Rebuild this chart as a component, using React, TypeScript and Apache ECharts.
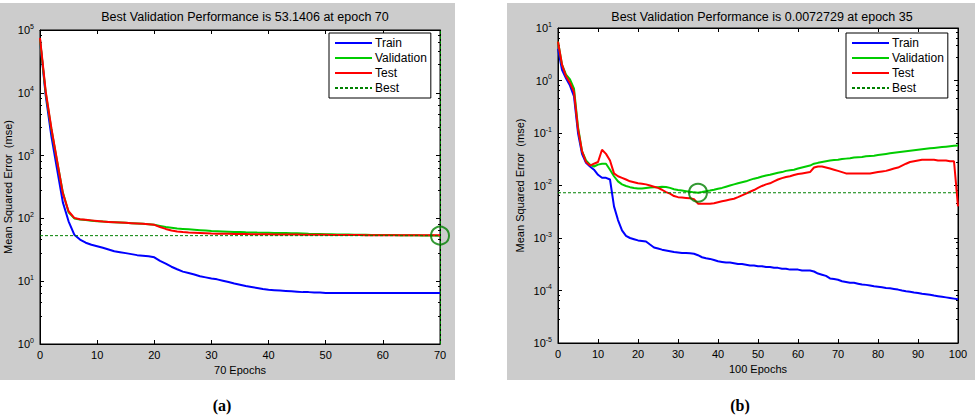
import React, { useEffect, useRef } from "react";
import * as echarts from "echarts";

// ---------- Data ----------
const seriesNames = ["Train", "Validation", "Test", "Best"];

// Chart (a): 70 epochs
const leftTrain = [
  70000, 9000, 2000, 600, 180, 90, 55, 46, 41, 38, 36, 34, 32, 30, 29, 28, 27, 26, 25.5, 25,
  24, 21, 19, 17, 15.5, 14.2, 13.5, 12.8, 12, 11.5, 11, 10.7, 10.2, 9.7, 9.2, 8.8, 8.4, 8.1, 7.8, 7.5,
  7.3, 7.2, 7.1, 7.0, 6.9, 6.8, 6.7, 6.7, 6.6, 6.6, 6.5, 6.5, 6.5, 6.5, 6.5, 6.5, 6.5, 6.5, 6.5, 6.5,
  6.5, 6.5, 6.5, 6.5, 6.5, 6.5, 6.5, 6.5, 6.5, 6.5, 6.5,
];
const leftValidation = [
  70000, 10000, 2600, 800, 260, 125, 100, 96, 94, 92, 90, 89, 88, 87, 86, 85, 84, 83, 82, 81,
  79, 76, 73, 71, 69, 68, 67, 66, 65, 64, 63, 62.5, 62, 61.5, 61, 60.5, 60, 59.7, 59.4, 59.2,
  59, 58.8, 58.6, 58.4, 58.2, 58, 57.5, 57, 56.6, 56.3, 56, 55.8, 55.6, 55.4, 55.2, 55, 54.8, 54.7, 54.6, 54.5,
  54.4, 54.3, 54.2, 54.1, 54, 53.8, 53.7, 53.5, 53.4, 53.2, 53.1406,
];
const leftTest = [
  75000, 10500, 2700, 820, 250, 130, 102, 97, 95, 93, 91, 89, 88, 87, 86, 85, 84, 83, 82, 81,
  79, 73, 68, 64, 62, 60.5, 59.5, 59, 58.5, 58, 57.5, 57.2, 57, 56.8, 56.6, 56.4, 56.2, 56, 55.9, 55.8,
  55.7, 55.6, 55.5, 55.4, 55.3, 55.2, 55.1, 55, 54.9, 54.8, 54.7, 54.6, 54.5, 54.4, 54.3, 54.2, 54.2, 54.1, 54.1, 54,
  54, 54, 53.9, 53.9, 53.9, 53.8, 53.8, 53.8, 53.8, 53.8, 53.8,
];
const leftBestEpoch = 70;
const leftBestValue = 53.1406;

// Chart (b): 100 epochs
const rightTrain = [
  4.0, 1.6, 1.1, 0.8, 0.5, 0.1, 0.04, 0.027, 0.023, 0.02,
  0.016, 0.014, 0.014, 0.013, 0.004, 0.0022, 0.0014, 0.0011, 0.001, 0.00095,
  0.0009, 0.00088, 0.00086, 0.00075, 0.00066, 0.00063, 0.0006, 0.00058, 0.00056, 0.00054,
  0.00053, 0.00052, 0.00052, 0.00051, 0.0005, 0.00047, 0.00043, 0.00041, 0.0004, 0.00038,
  0.00036, 0.00035, 0.00034, 0.00034, 0.00033, 0.00032, 0.00032, 0.00031, 0.0003, 0.0003,
  0.00029, 0.00029, 0.00028, 0.00028, 0.00027, 0.00027, 0.00026, 0.00026, 0.00025, 0.00025,
  0.00025, 0.00024, 0.00024, 0.00024, 0.00023, 0.00021, 0.0002, 0.00019, 0.00017, 0.000165,
  0.00016, 0.00015, 0.000145, 0.00014, 0.00014, 0.000135, 0.00013, 0.000128, 0.000125, 0.00012,
  0.000118, 0.000115, 0.000112, 0.00011, 0.000107, 0.000104, 0.0001, 0.000097, 0.000095, 0.000092,
  0.00009, 0.000087, 0.000085, 0.000083, 0.00008, 0.000078, 0.000076, 0.000074, 0.000072, 0.00007,
  0.000068,
];
const rightValidation = [
  5.5, 2.0, 1.3, 1.05, 0.7, 0.13, 0.045, 0.03, 0.025, 0.023,
  0.025, 0.026, 0.026, 0.02, 0.015, 0.012, 0.0105, 0.0098, 0.0093, 0.009,
  0.0088, 0.0088, 0.009, 0.0092, 0.0093, 0.0093, 0.0095, 0.0094, 0.009, 0.0085,
  0.0082, 0.008, 0.0078, 0.0076, 0.0074, 0.0072729, 0.0075, 0.0078, 0.008, 0.0083,
  0.0087, 0.009, 0.0095, 0.01, 0.0105, 0.011, 0.0115, 0.012, 0.0128, 0.0135,
  0.014, 0.0148, 0.0155, 0.016, 0.0168, 0.0175, 0.018, 0.019, 0.0195, 0.02,
  0.021, 0.022, 0.023, 0.024, 0.026, 0.027, 0.028, 0.029, 0.03, 0.0305,
  0.031, 0.032, 0.0325, 0.033, 0.034, 0.0345, 0.035, 0.036, 0.0365, 0.037,
  0.038, 0.039, 0.04, 0.041, 0.042, 0.043, 0.044, 0.045, 0.046, 0.047,
  0.048, 0.049, 0.05, 0.051, 0.052, 0.053, 0.054, 0.055, 0.056, 0.057,
  0.058,
];
const rightTest = [
  5.5, 2.0, 1.2, 0.9, 0.6, 0.12, 0.045, 0.028, 0.024, 0.026,
  0.028, 0.048, 0.04, 0.03, 0.017, 0.015, 0.014, 0.013, 0.012, 0.0115,
  0.011, 0.0108, 0.0105, 0.01, 0.0095, 0.009, 0.0083, 0.0075, 0.007, 0.0063,
  0.006, 0.0059, 0.0058, 0.0057, 0.0055, 0.0045, 0.0045, 0.0045, 0.0045, 0.0046,
  0.0048, 0.005, 0.0052, 0.0054, 0.0056, 0.006, 0.0065, 0.007, 0.0076, 0.0082,
  0.009, 0.0098, 0.0105, 0.011, 0.012, 0.013, 0.0138, 0.0145, 0.015, 0.0158,
  0.0165, 0.017, 0.0175, 0.018, 0.022, 0.023, 0.023, 0.022, 0.021, 0.02,
  0.019, 0.018, 0.017, 0.017, 0.017, 0.017, 0.017, 0.017, 0.017, 0.0175,
  0.018, 0.0185, 0.019, 0.02, 0.021, 0.022, 0.024, 0.026, 0.028, 0.029,
  0.03, 0.031, 0.031, 0.031, 0.031, 0.03, 0.03, 0.03, 0.029, 0.029,
  0.004,
];
const rightBestEpoch = 35;
const rightBestValue = 0.0072729;

const leftTitle = "Best Validation Performance is 53.1406 at epoch 70";
const rightTitle = "Best Validation Performance is 0.0072729 at epoch 35";
const leftXName = "70 Epochs";
const rightXName = "100 Epochs";
const yName = "Mean Squared Error  (mse)";
const captions = ["(a)", "(b)"];

// ---------- Styling ----------
const FONT = "Liberation Sans, Arial, sans-serif";
const C_TRAIN = "#0000ff";
const C_VAL = "#00cc00";
const C_TEST = "#ff0000";
const C_BEST = "#008000";

const toPairs = (arr: number[]) => arr.map((v, i) => [i, v]);

function buildOption() {
  const yLabel = {
    fontFamily: FONT,
    color: "#000",
    margin: 6,
    formatter: (v: number) => `{b|10}{s|${Math.round(Math.log10(v))}}`,
    rich: {
      b: { fontSize: 11, fontFamily: FONT, color: "#000" },
      s: { fontSize: 7, fontFamily: FONT, color: "#000", padding: [0, 0, 8, 0] },
    },
  };
  const tickIn = { inside: true, length: 4, lineStyle: { color: "#000" } };
  const minorIn = { show: true, splitNumber: 5, length: 2, lineStyle: { color: "#000" } };
  const axisLine = { show: true, onZero: false, lineStyle: { color: "#000", width: 1 } };

  const mkX = (grid: number, max: number, name: string) => [
    {
      type: "value",
      gridIndex: grid,
      min: 0,
      max,
      interval: 10,
      position: "bottom",
      axisLine,
      axisTick: tickIn,
      splitLine: { show: false },
      axisLabel: { fontFamily: FONT, fontSize: 11, color: "#000", margin: 5 },
      name,
      nameLocation: "middle",
      nameGap: 19,
      nameTextStyle: { fontFamily: FONT, fontSize: 11, color: "#000" },
    },
    {
      type: "value",
      gridIndex: grid,
      min: 0,
      max,
      interval: 10,
      position: "top",
      axisLine,
      axisTick: tickIn,
      splitLine: { show: false },
      axisLabel: { show: false },
    },
  ];
  const mkY = (grid: number, min: number, max: number, split: number, gap: number) => [
    {
      type: "log",
      logBase: 10,
      gridIndex: grid,
      min,
      max,
      splitNumber: split,
      position: "left",
      axisLine,
      axisTick: tickIn,
      minorTick: minorIn,
      splitLine: { show: false },
      minorSplitLine: { show: false },
      axisLabel: yLabel,
      name: yName,
      nameLocation: "middle",
      nameGap: gap,
      nameTextStyle: { fontFamily: FONT, fontSize: 11, color: "#000" },
    },
    {
      type: "log",
      logBase: 10,
      gridIndex: grid,
      min,
      max,
      splitNumber: split,
      position: "right",
      axisLine,
      axisTick: tickIn,
      minorTick: minorIn,
      splitLine: { show: false },
      minorSplitLine: { show: false },
      axisLabel: { show: false },
    },
  ];

  const mkSeries = (
    xi: number,
    yi: number,
    train: number[],
    val: number[],
    test: number[],
    bestEpoch: number,
    bestValue: number,
    maxEpoch: number,
    vertical: boolean
  ) => [
    {
      name: "Train",
      type: "line",
      xAxisIndex: xi,
      yAxisIndex: yi,
      data: toPairs(train),
      symbol: "none",
      lineStyle: { color: C_TRAIN, width: 2 },
      itemStyle: { color: C_TRAIN },
    },
    {
      name: "Validation",
      type: "line",
      xAxisIndex: xi,
      yAxisIndex: yi,
      data: toPairs(val),
      symbol: "none",
      lineStyle: { color: C_VAL, width: 2 },
      itemStyle: { color: C_VAL },
    },
    {
      name: "Test",
      type: "line",
      xAxisIndex: xi,
      yAxisIndex: yi,
      data: toPairs(test),
      symbol: "none",
      lineStyle: { color: C_TEST, width: 2 },
      itemStyle: { color: C_TEST },
    },
    {
      name: "Best",
      type: "line",
      xAxisIndex: xi,
      yAxisIndex: yi,
      data: [
        [0, bestValue],
        [maxEpoch, bestValue],
      ],
      symbol: "none",
      lineStyle: { color: C_BEST, width: 1, type: [3, 2] },
      itemStyle: { color: C_BEST },
      markLine: vertical
        ? {
            silent: true,
            symbol: "none",
            label: { show: false },
            lineStyle: { color: C_BEST, width: 1, type: [3, 2] },
            data: [{ xAxis: bestEpoch }],
          }
        : undefined,
    },
    {
      name: "bestPoint",
      type: "scatter",
      xAxisIndex: xi,
      yAxisIndex: yi,
      data: [[bestEpoch, bestValue]],
      symbol: "circle",
      symbolSize: 18,
      clip: false,
      itemStyle: { color: "rgba(0,0,0,0)", borderColor: C_BEST, borderWidth: 2 },
      z: 5,
    },
  ];

  const legendBase = {
    orient: "vertical",
    data: seriesNames,
    backgroundColor: "#fff",
    borderColor: "#000",
    borderWidth: 1,
    borderRadius: 0,
    padding: [4, 4, 4, 5],
    itemGap: 3,
    itemWidth: 37,
    itemHeight: 14,
    selectedMode: false,
    itemStyle: { opacity: 0, borderWidth: 0 },
    textStyle: { fontFamily: FONT, fontSize: 12, color: "#000", padding: [0, 0, 0, -2] },
  };

  return {
    animation: false,
    backgroundColor: "#fff",
    title: [
      {
        text: leftTitle,
        left: 240,
        top: 5,
        textAlign: "center",
        textStyle: { fontFamily: FONT, fontSize: 12.5, fontWeight: "normal", color: "#000" },
      },
      {
        text: rightTitle,
        left: 757,
        top: 5,
        textAlign: "center",
        textStyle: { fontFamily: FONT, fontSize: 12.5, fontWeight: "normal", color: "#000" },
      },
    ],
    legend: [
      { ...legendBase, left: 329, top: 33 },
      { ...legendBase, left: 846, top: 33 },
    ],
    grid: [
      { left: 40, top: 30, width: 400, height: 314, show: true, backgroundColor: "#fff", borderColor: "#000", borderWidth: 1 },
      { left: 558, top: 28, width: 400, height: 315, show: true, backgroundColor: "#fff", borderColor: "#000", borderWidth: 1 },
    ],
    xAxis: [...mkX(0, 70, leftXName), ...mkX(1, 100, rightXName)],
    yAxis: [...mkY(0, 1, 100000, 5, 26), ...mkY(1, 0.00001, 10, 6, 33)],
    graphic: [
      { type: "rect", z: -10, shape: { x: 0, y: 3, width: 455, height: 377 }, style: { fill: "#cccccc" } },
      { type: "rect", z: -10, shape: { x: 507, y: 3, width: 468, height: 377 }, style: { fill: "#cccccc" } },
      {
        type: "text",
        x: 222,
        y: 405,
        style: { text: captions[0], font: "bold 16px 'Liberation Serif', 'Times New Roman', serif", fill: "#000", textAlign: "center", textVerticalAlign: "middle" },
      },
      {
        type: "text",
        x: 740,
        y: 405,
        style: { text: captions[1], font: "bold 16px 'Liberation Serif', 'Times New Roman', serif", fill: "#000", textAlign: "center", textVerticalAlign: "middle" },
      },
    ],
    series: [
      ...mkSeries(0, 0, leftTrain, leftValidation, leftTest, leftBestEpoch, leftBestValue, 70, true),
      ...mkSeries(2, 2, rightTrain, rightValidation, rightTest, rightBestEpoch, rightBestValue, 100, false),
    ],
  };
}

export default function App() {
  const ref = useRef<HTMLDivElement>(null);
  useEffect(() => {
    document.body.style.margin = "0";
    if (!ref.current) return;
    const chart = echarts.init(ref.current, undefined, { renderer: "svg" });
    chart.setOption(buildOption() as any);
    return () => chart.dispose();
  }, []);
  return <div ref={ref} style={{ width: 975, height: 416, background: "#fff" }} />;
}
